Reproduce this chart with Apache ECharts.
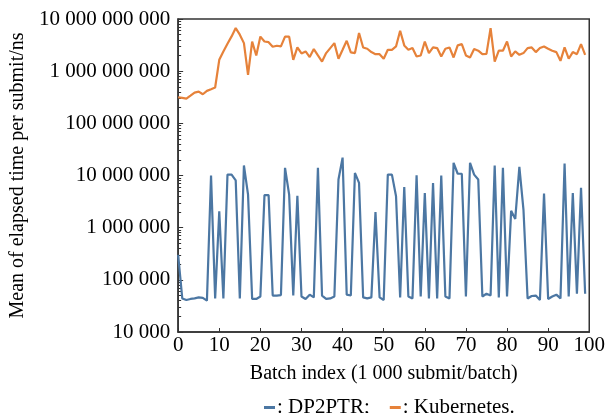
<!DOCTYPE html>
<html>
<head>
<meta charset="utf-8">
<script src="https://cdn.jsdelivr.net/npm/echarts@6/dist/echarts.min.js"></script>
<style>
  html, body { margin: 0; padding: 0; background: #fff; }
  #chart { width: 608px; height: 413px; }
</style>
</head>
<body>
<div id="chart"></div>
<script>
var chart = echarts.init(document.getElementById("chart"));

// mean elapsed time per submit (ns), one value per batch index 0..99
var dp2ptr = [
    300000, 44000, 41000, 43000, 44000, 46000, 45000, 40000, 10000000, 44000,
    2060000, 44000, 10400000, 10400000, 8100000, 44000, 15600000, 4300000, 43000, 43000,
    48000, 4200000, 4200000, 50000, 50000, 51000, 14000000, 4300000, 50000, 4100000,
    48000, 43000, 52000, 46000, 14000000, 50000, 43000, 44000, 48000, 8400000,
    22000000, 52000, 50000, 11200000, 7200000, 46000, 44000, 46000, 2000000, 46000,
    41000, 10400000, 10400000, 4000000, 46000, 6000000, 48000, 44000, 10100000, 48000,
    4600000, 44000, 7200000, 44000, 10000000, 48000, 44000, 17500000, 10800000, 10800000,
    48000, 17500000, 10400000, 8400000, 48000, 54000, 50000, 15600000, 46000, 14000000,
    48000, 2100000, 1470000, 14700000, 2200000, 44000, 49000, 50000, 41000, 4500000,
    43000, 48000, 52000, 44000, 17000000, 48000, 4600000, 54000, 5800000, 54000
];

var kubernetes = [
    316e6, 307e6, 298e6, 340e6, 389e6, 406e6, 361e6, 419e6, 451e6, 486e6,
    1.65e9, 2.39e9, 3.36e9, 4.64e9, 6.7e9, 5.0e9, 3.45e9, 0.85e9, 3.7e9, 2.0e9,
    4.6e9, 3.7e9, 3.6e9, 2.94e9, 3.07e9, 2.98e9, 4.6e9, 4.6e9, 1.65e9, 2.85e9,
    2.19e9, 2.39e9, 1.86e9, 2.65e9, 2.0e9, 1.53e9, 2.22e9, 2.77e9, 3.45e9, 1.73e9,
    2.57e9, 3.83e9, 2.29e9, 2.22e9, 5.38e9, 2.85e9, 2.69e9, 2.32e9, 2.12e9, 2.12e9,
    1.73e9, 2.57e9, 2.57e9, 2.98e9, 5.97e9, 3.12e9, 2.57e9, 2.77e9, 1.91e9, 2.0e9,
    3.7e9, 2.22e9, 2.85e9, 2.77e9, 1.91e9, 2.69e9, 2.85e9, 1.83e9, 3.12e9, 3.3e9,
    2.0e9, 1.83e9, 2.65e9, 2.47e9, 2.12e9, 2.15e9, 6.7e9, 1.53e9, 2.47e9, 2.47e9,
    3.7e9, 1.91e9, 2.39e9, 2.06e9, 2.22e9, 2.77e9, 2.85e9, 2.32e9, 2.77e9, 2.98e9,
    2.69e9, 2.47e9, 2.32e9, 1.58e9, 2.85e9, 1.73e9, 2.32e9, 2.12e9, 3.3e9, 2.06e9
];

var seriesNames = ["DP2PTR", "Kubernetes"];
var legendEnds = { "DP2PTR": ";", "Kubernetes": "." };
var colors = ["#4c77a3", "#e6823a"];

// minor ticks at 2..9 of each decade, in log10 units
var minorTicks = [];
for (var d = 4; d < 10; d++) {
    for (var k = 2; k <= 9; k++) {
        minorTicks.push(d + Math.log10(k));
    }
}

function toPairs(arr) {
    return arr.map(function (v, i) { return [i, v]; });
}

var font = "Liberation Serif";

var option = {
    backgroundColor: "#fff",
    animation: false,
    textStyle: { fontFamily: font, color: "#000" },
    grid: {
        left: 176, right: 16, top: 19, bottom: 81,
        show: true, borderColor: "#333", borderWidth: 1.5,
        backgroundColor: "transparent"
    },
    legend: {
        top: 392, left: 259,
        icon: "rect", itemWidth: 11, itemHeight: 3, itemGap: 20,
        textStyle: { fontFamily: font, fontSize: 21, color: "#000", padding: [0, 0, 0, -3] },
        formatter: function (name) { return ": " + name + legendEnds[name]; },
        data: seriesNames
    },
    xAxis: {
        type: "value", min: 0, max: 100, interval: 10,
        name: "Batch index (1 000 submit/batch)",
        nameLocation: "middle", nameGap: 32,
        nameTextStyle: { fontFamily: font, fontSize: 20, color: "#000" },
        axisLine: { lineStyle: { color: "#333", width: 1.5 } },
        axisTick: { inside: true, length: 4, lineStyle: { color: "#333" } },
        axisLabel: { fontFamily: font, fontSize: 21, color: "#000", margin: 3 },
        splitLine: { show: false }
    },
    yAxis: [{
        type: "log", logBase: 10, min: 1e4, max: 1e10,
        name: "Mean of elapsed time per submit/ns",
        nameLocation: "middle", nameGap: 150,
        nameTextStyle: { fontFamily: font, fontSize: 20, color: "#000" },
        axisLine: { show: true, lineStyle: { color: "#333", width: 1.5 } },
        axisTick: { inside: true, length: 5, lineStyle: { color: "#333" } },
        axisLabel: {
            fontFamily: font, fontSize: 21, color: "#000", margin: 8,
            formatter: function (v) {
                return String(Math.round(v)).replace(/\B(?=(\d{3})+(?!\d))/g, " ");
            }
        },
        splitLine: { show: false }
    }, {
        type: "value", min: 4, max: 10, position: "left",
        axisLine: { show: false },
        axisLabel: { show: false },
        splitLine: { show: false },
        axisTick: {
            show: true, inside: true, length: 3,
            customValues: minorTicks,
            lineStyle: { color: "#333" }
        }
    }],
    series: [{
        name: seriesNames[0],
        type: "line",
        data: toPairs(dp2ptr),
        showSymbol: false,
        color: colors[0],
        lineStyle: { width: 2.2, color: colors[0] }
    }, {
        name: seriesNames[1],
        type: "line",
        data: toPairs(kubernetes),
        showSymbol: false,
        color: colors[1],
        lineStyle: { width: 2.2, color: colors[1] }
    }]
};

chart.setOption(option);
</script>
</body>
</html>
